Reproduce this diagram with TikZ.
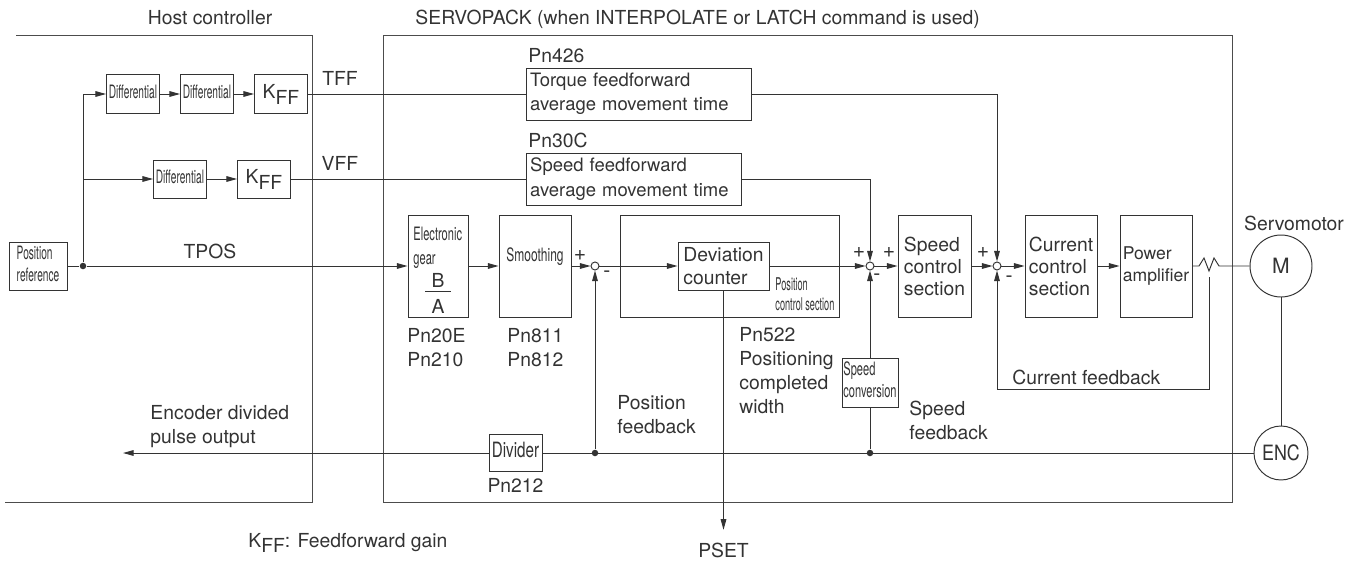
\documentclass[tikz,border=0pt]{standalone}
\usepackage{fontspec}
\setmainfont{TeX Gyre Heros}
\usetikzlibrary{positioning,arrows.meta}
\newcommand{\cnd}[2][0.6]{\scalebox{#1}[1]{\begin{tabular}{@{}l@{}}#2\end{tabular}}}
\newcommand{\Kff}{K\raisebox{-3.4pt}{FF}}

\begin{document}
\begin{tikzpicture}[
  x=0.02cm, y=-0.02cm,
  line width=0.55pt, color=black!80,
  blk/.style={draw, inner sep=0pt, align=left, font=\fontsize{11}{12.5}\selectfont},
  cblk/.style={draw, inner sep=0pt, font=\fontsize{10.5}{13}\selectfont},
  txt/.style={inner sep=0pt, align=left, font=\fontsize{11}{13.7}\selectfont},
  ctxt/.style={inner sep=0pt, font=\fontsize{10.5}{13.7}\selectfont},
  sgn/.style={inner sep=0pt, font=\fontsize{12}{12}\selectfont},
  sumj/.style={circle, draw, fill=white, inner sep=0pt, minimum size=0.16cm},
  dot/.style={circle, fill, inner sep=0pt, minimum size=0.13cm},
  frame/.style={draw=black!70},
  arr/.style={-{Triangle[length=6pt,width=3.2pt]}}
]
\useasboundingbox (0,0) rectangle (1356,561);

% Frames and titles
\draw[frame] (16,35) -- (312,35) -- (312,502) -- (5,502);
\draw[frame] (383,35) rectangle (1232,502);
\node[txt, anchor=base] (hdr_host) at (210,25) {Host controller};
\node[txt, anchor=base west] (hdr_servo) at (415,25) {SERVOPACK (when INTERPOLATE or LATCH command is used)};

% Host controller
\node[cblk, minimum width=1.16cm, minimum height=0.96cm] (posref) at (38,266) {\cnd[0.55]{Position\\reference}};
\node[dot] (tap) at (83,266) {};
\node[cblk, minimum width=1.06cm, minimum height=0.78cm] (diff_a) at (133,94) {\cnd[0.55]{Differential}};
\node[cblk, minimum width=1.06cm, minimum height=0.78cm] (diff_b) at (207,94) {\cnd[0.55]{Differential}};
\node[blk, minimum width=1.06cm, minimum height=0.78cm, align=center] (kff_a) at (281,94) {\Kff};
\node[cblk, minimum width=1.06cm, minimum height=0.76cm] (diff_c) at (180,179) {\cnd[0.55]{Differential}};
\node[blk, minimum width=1.06cm, minimum height=0.76cm, align=center] (kff_b) at (264,179) {\Kff};
\node[txt, anchor=base] (lbl_tff) at (340,85) {TFF};
\node[txt, anchor=base] (lbl_vff) at (340,170) {VFF};
\node[txt, anchor=base] (lbl_tpos) at (210,258) {TPOS};

% Feedforward filters
\node[txt, anchor=base west] (pn426) at (528,62) {Pn426};
\node[blk, anchor=west, minimum height=1.04cm, text width=4.35cm, inner xsep=0.075cm,
      font=\fontsize{10.5}{13.8}\selectfont] (tff_avg) at (526,94) {Torque feedforward\\average movement time};
\node[txt, anchor=base west] (pn30c) at (528,147) {Pn30C};
\node[blk, anchor=west, minimum height=1.04cm, text width=4.15cm, inner xsep=0.075cm,
      font=\fontsize{10.5}{13.8}\selectfont] (vff_avg) at (526,179) {Speed feedforward\\average movement time};

% Position loop
\node[draw, minimum width=1.2cm, minimum height=2.04cm] (gear) at (438,266) {};
\node[ctxt, anchor=north west] (gear_txt) at (413,223) {\cnd[0.6]{Electronic\\gear}};
\node[txt] (gear_b) at (438,280) {B};
\node[txt] (gear_a) at (438,306) {A};
\draw (425,291) -- (451,291);
\node[draw, minimum width=1.44cm, minimum height=2.04cm] (smooth) at (535,266) {};
\node[ctxt] (smooth_txt) at (535,257) {\cnd[0.65]{Smoothing}};
\node[sumj] (sum_p) at (595,266) {};
\node[draw, minimum width=4.38cm, minimum height=2.04cm] (pcs) at (729.5,266) {};
\node[blk, minimum width=1.82cm, minimum height=0.96cm, font=\fontsize{11}{13}\selectfont] (devcnt) at (723.5,266) {Deviation\\counter};
\node[ctxt, anchor=north west, font=\fontsize{10}{11.4}\selectfont] (pcs_txt) at (775,276) {\cnd[0.52]{Position\\control section}};

% Speed and current loops
\node[sumj] (sum_s) at (870,266) {};
\node[blk, minimum width=1.46cm, minimum height=2.04cm] (spdctl) at (934.5,266) {Speed\\control\\section};
\node[sumj] (sum_c) at (997,266) {};
\node[blk, minimum width=1.44cm, minimum height=2.04cm] (curctl) at (1061,266) {Current\\control\\section};
\node[blk, minimum width=1.44cm, minimum height=2.04cm, font=\fontsize{10}{13}\selectfont] (pwramp) at (1156,266) {Power\\amplifier};
\node[cblk, minimum width=1.12cm, minimum height=0.98cm, font=\fontsize{10.5}{12.5}\selectfont] (spdconv) at (870,382.5) {\cnd[0.6]{Speed\\conversion}};
\coordinate (ctap) at (1209,277);
\coordinate (cfb) at (1209,389);

% Motor and encoder
\node[circle, draw, fill=white, minimum size=1.24cm, inner sep=0pt, font=\fontsize{12}{12}\selectfont] (motor) at (1281,266) {M};
\node[circle, draw, fill=white, minimum size=1.08cm, inner sep=0pt, font=\fontsize{12}{12}\selectfont] (enc) at (1281,453) {\scalebox{0.85}[1]{ENC}};
\node[txt, anchor=base] (motor_lbl) at (1294,230) {Servomotor};

% Feedback path
\node[dot] (fb_s) at (870,453) {};
\node[dot] (fb_p) at (595,453) {};
\node[cblk, minimum width=1.06cm, minimum height=0.74cm, font=\fontsize{12}{12}\selectfont] (divider) at (515.5,453) {\cnd[0.72]{Divider}};
\coordinate (out_end) at (123,453);

% Parameter labels
\node[txt, anchor=north west] (pn_gear) at (407,328) {Pn20E\\Pn210};
\node[txt, anchor=north west] (pn_smooth) at (507,328) {Pn811\\Pn812};
\node[txt, anchor=north west] (pn522) at (739,327) {Pn522\\Positioning\\completed\\width};
\node[txt, anchor=north west] (lbl_posfb) at (617,395) {Position\\feedback};
\node[txt, anchor=north west] (lbl_spdfb) at (909,401) {Speed\\feedback};
\node[txt, anchor=base west] (lbl_curfb) at (1012,384) {Current feedback};
\node[txt, anchor=north west] (lbl_enc) at (150,405) {Encoder divided\\pulse output};
\node[txt, anchor=base] (pn212) at (515.5,492) {Pn212};
\node[txt, anchor=base] (pset) at (723.5,557) {PSET};
\node[txt, anchor=base west] (legend) at (248,547) {\Kff: Feedforward gain};

% Signs
\node[sgn] at (580,256) {+};
\node[sgn] at (607,274) {-};
\node[sgn] at (859,252) {+};
\node[sgn] at (889,252) {+};
\node[sgn] at (877,277) {-};
\node[sgn] at (983,252) {+};
\node[sgn] at (1009,279) {-};

% Arrows
\draw (posref) -- (tap);
\draw[arr] (tap) -- (gear);
\draw[arr] (tap) |- (diff_a);
\draw[arr] (tap |- diff_c) -- (diff_c);
\draw[arr] (diff_a) -- (diff_b);
\draw[arr] (diff_b) -- (kff_a);
\draw[arr] (diff_c) -- (kff_b);
\draw (kff_a) -- (tff_avg);
\draw (kff_b) -- (vff_avg);
\draw[arr] (tff_avg) -| (sum_c);
\draw[arr] (vff_avg) -| (sum_s);
\draw[arr] (gear) -- (smooth);
\draw[arr] (smooth) -- (sum_p);
\draw[arr] (sum_p) -- (devcnt);
\draw[arr] (devcnt) -- (sum_s);
\draw[arr] (sum_s) -- (spdctl);
\draw[arr] (spdctl) -- (sum_c);
\draw[arr] (sum_c) -- (curctl);
\draw[arr] (curctl) -- (pwramp);
\draw (pwramp) -- (1199,266) -- (1204,258) -- (1209,271) -- (1214,258) -- (1219,266) -- (motor);
\draw (motor) -- (enc);
\draw (enc) -- (divider);
\draw[arr] (divider) -- (out_end);
\draw[arr] (fb_p) -- (sum_p);
\draw (fb_s) -- (spdconv);
\draw[arr] (spdconv) -- (sum_s);
\draw[arr] (ctap) -- (cfb) -| (sum_c);
\draw[arr] (devcnt) -- ([yshift=7pt]pset.north);
\end{tikzpicture}
\end{document}
